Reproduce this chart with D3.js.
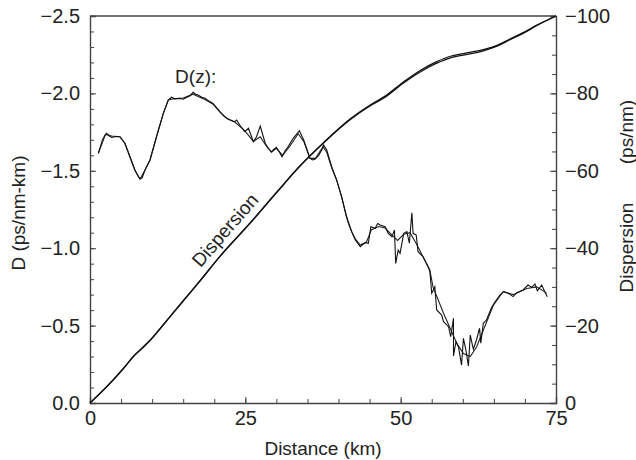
<!DOCTYPE html>
<html>
<head>
<meta charset="utf-8">
<script src="https://cdn.jsdelivr.net/npm/d3@7"></script>
<style>
  body { margin: 0; background: #fff; }
  svg { display: block; }
  text { font-family: "Liberation Sans", Arial, Helvetica, sans-serif; fill: #222; }
</style>
</head>
<body>
<svg id="chart" width="636" height="460"></svg>
<script>
// ---- data ----
const xTickLabels = [0, 25, 50, 75];
const leftTickValues = [-2.5, -2.0, -1.5, -1.0, -0.5, 0.0];
const rightTickValues = [-100, -80, -60, -40, -20, 0];

// measured D(z) (noisy trace)
const dNoisyKm = [1.34,2.0,2.41,2.68,3.1,3.49,4.2,4.83,5.63,6.44,7.24,7.78,8.05,8.4,8.85,9.66,10.7,11.8,12.6,13.1,13.6,14.5,15.0,15.6,16.1,16.6,17.0,17.4,18.0,18.5,19.2,19.8,20.9,21.5,22.0,22.7,23.3,23.6,24.1,24.9,25.5,26.3,26.8,27.4,28.2,28.7,29.2,29.6,30.0,30.5,30.9,31.4,31.9,32.7,33.7,34.4,35.4,35.8,36.2,36.8,37.3,37.6,38.1,38.9,39.7,40.5,41.0,41.3,41.6,42.1,42.7,43.5,44.3,44.8,45.2,45.9,46.3,46.7,47.5,48.0,48.6,49.0,49.2,49.6,49.9,50.5,51.0,51.4,51.8,52.0,52.5,52.8,53.6,54.4,54.7,55.0,55.5,55.8,56.6,56.9,57.7,58.05,58.5,58.5,58.9,59.3,59.8,60.1,60.5,60.9,61.2,61.7,62.2,62.7,62.9,63.3,63.8,64.65,65.2,66.0,66.6,67.3,68.1,68.7,69.7,70.5,71.1,71.6,72.0,72.7,73.2,73.6];
const dNoisy = [-1.613,-1.70,-1.731,-1.742,-1.725,-1.716,-1.722,-1.720,-1.678,-1.591,-1.505,-1.462,-1.447,-1.455,-1.505,-1.57,-1.72,-1.871,-1.957,-1.975,-1.965,-1.968,-1.962,-1.975,-1.985,-2.007,-1.995,-1.99,-1.975,-1.968,-1.950,-1.936,-1.882,-1.855,-1.839,-1.825,-1.817,-1.828,-1.796,-1.753,-1.775,-1.688,-1.72,-1.789,-1.678,-1.645,-1.623,-1.64,-1.652,-1.62,-1.591,-1.63,-1.656,-1.71,-1.759,-1.699,-1.581,-1.57,-1.574,-1.60,-1.634,-1.667,-1.634,-1.526,-1.44,-1.333,-1.25,-1.203,-1.161,-1.107,-1.053,-1.01,-1.036,-1.032,-1.139,-1.129,-1.16,-1.15,-1.139,-1.096,-1.074,-1.118,-0.902,-0.988,-0.967,-1.096,-1.107,-1.032,-1.229,-1.096,-1.085,-0.977,-0.945,-0.88,-0.85,-0.709,-0.751,-0.601,-0.568,-0.525,-0.493,-0.428,-0.547,-0.304,-0.396,-0.364,-0.245,-0.418,-0.342,-0.239,-0.439,-0.347,-0.407,-0.483,-0.386,-0.515,-0.536,-0.618,-0.654,-0.698,-0.719,-0.709,-0.687,-0.713,-0.73,-0.762,-0.747,-0.769,-0.725,-0.762,-0.719,-0.687];

// smoothed D(z)
const dSmoothKm = [1.34,2.5,3.5,4.8,5.6,6.4,7.2,8.05,8.85,9.66,10.7,11.8,12.6,13.5,15.0,16.6,17.4,18.5,19.8,20.9,22.0,23.3,24.9,26.3,27.4,28.2,29.2,30.0,31.0,32.2,33.5,34.4,35.4,36.3,37.5,38.1,38.9,39.7,40.5,41.3,42.1,42.7,43.5,44.5,45.3,46.5,47.5,48.5,49.5,50.5,51.5,52.5,53.6,54.7,55.2,56.9,58.0,59.1,60.1,61.2,62.2,63.3,64.9,66.5,68.1,70.3,71.9,73.5];
const dSmooth = [-1.613,-1.735,-1.725,-1.72,-1.678,-1.59,-1.505,-1.447,-1.505,-1.57,-1.72,-1.871,-1.957,-1.965,-1.97,-1.995,-1.98,-1.96,-1.93,-1.88,-1.84,-1.815,-1.76,-1.69,-1.72,-1.67,-1.62,-1.645,-1.60,-1.66,-1.74,-1.69,-1.58,-1.58,-1.655,-1.62,-1.52,-1.44,-1.33,-1.20,-1.11,-1.06,-1.02,-1.04,-1.12,-1.14,-1.13,-1.09,-1.05,-1.09,-1.10,-1.03,-0.945,-0.859,-0.75,-0.58,-0.48,-0.38,-0.32,-0.30,-0.36,-0.47,-0.63,-0.72,-0.70,-0.74,-0.75,-0.71];

// accumulated dispersion (ps/nm), two nearly coincident traces
const dispKm = [0,3.2,5.5,7.0,8.3,9.7,11.2,12.9,15.3,17.7,21.0,25.75,30.0,33.8,37.8,41.8,45.1,47.5,50.4,53.0,55.8,58.0,60.1,63.3,65.5,67.5,69.7,72.0,75.0];
const dispA  = [0,-5.1,-9.2,-12.0,-14.0,-16.2,-19.0,-22.3,-26.9,-31.5,-38.0,-46.4,-54.3,-61.2,-67.5,-73.1,-76.8,-79.0,-82.6,-85.4,-87.8,-89.2,-89.9,-91.0,-92.2,-93.8,-95.5,-97.6,-100];
const dispB  = [0,-5.0,-9.1,-12.1,-14.1,-16.3,-19.1,-22.4,-27.0,-31.6,-38.1,-46.5,-54.4,-61.3,-67.6,-73.3,-77.0,-79.3,-82.9,-85.8,-88.2,-89.6,-90.3,-91.3,-92.4,-94.0,-95.7,-97.7,-100];

// ---- layout ----
const svg = d3.select("#chart");
const M = {left: 90, right: 80, top: 16, bottom: 57};
const W = 636 - M.left - M.right, H = 460 - M.top - M.bottom;
const g = svg.append("g").attr("transform", `translate(${M.left},${M.top})`);

const x = d3.scaleLinear().domain([0, 75]).range([0, W]);
const yL = d3.scaleLinear().domain([0, -2.5]).range([H, 0]);
const yR = d3.scaleLinear().domain([0, -100]).range([H, 0]);

const minus = v => String(v).replace("-", "\u2212");
const axisColor = "#444";

// minor ticks
g.append("g").attr("transform", `translate(0,${H})`)
  .call(d3.axisBottom(x).tickValues(d3.range(0, 76, 5)).tickSize(-4).tickFormat(""))
  .call(s => s.select(".domain").remove());
g.append("g")
  .call(d3.axisLeft(yL).tickValues(d3.range(0, 26).map(i => -i / 10)).tickSize(-4).tickFormat(""))
  .call(s => s.select(".domain").remove());
g.append("g").attr("transform", `translate(${W},0)`)
  .call(d3.axisRight(yR).tickValues(d3.range(0, 21).map(i => -i * 5)).tickSize(-4).tickFormat(""))
  .call(s => s.select(".domain").remove());

// major axes
const fs = "19px", tfs = "20px";
const xa = g.append("g").attr("transform", `translate(0,${H})`)
  .call(d3.axisBottom(x).tickValues(xTickLabels).tickSize(-6).tickPadding(8).tickFormat(d => d));
const la = g.append("g")
  .call(d3.axisLeft(yL).tickValues(leftTickValues).tickSize(-6).tickPadding(10).tickFormat(d => minus(d3.format(".1f")(d))));
const ra = g.append("g").attr("transform", `translate(${W},0)`)
  .call(d3.axisRight(yR).tickValues(rightTickValues).tickSize(-6).tickPadding(9).tickFormat(d => minus(d)));
[xa, la, ra].forEach(a => {
  a.selectAll("text").style("font-size", tfs).attr("fill", "#222");
  a.select(".domain").attr("stroke", axisColor).attr("stroke-width", 1.4);
});
g.selectAll("line").attr("stroke", axisColor);
// top frame
g.append("line").attr("x1", 0).attr("x2", W).attr("y1", 0).attr("y2", 0)
  .attr("stroke", axisColor).attr("stroke-width", 1.4);

// ---- lines ----
const lineL = d3.line().x(d => x(d[0])).y(d => yL(d[1]));
const lineR = d3.line().curve(d3.curveMonotoneX).x(d => x(d[0])).y(d => yR(d[1]));
g.append("path").datum(d3.zip(dSmoothKm, dSmooth)).attr("d", lineL)
  .attr("fill", "none").attr("stroke", "#222").attr("stroke-width", 1.1);
g.append("path").datum(d3.zip(dNoisyKm, dNoisy)).attr("d", lineL)
  .attr("fill", "none").attr("stroke", "#111").attr("stroke-width", 1.1);
g.append("path").datum(d3.zip(dispKm, dispB)).attr("d", lineR)
  .attr("fill", "none").attr("stroke", "#111").attr("stroke-width", 1.3);
g.append("path").datum(d3.zip(dispKm, dispA)).attr("d", lineR)
  .attr("fill", "none").attr("stroke", "#111").attr("stroke-width", 1.3);

// ---- annotations ----
g.append("text").attr("x", x(13.7)).attr("y", yL(-2.07)).style("font-size", fs).text("D(z):");
const ang = Math.atan2(yR(-61.2) - yR(-31.5), x(33.8) - x(17.7)) * 180 / Math.PI;
g.append("text")
  .attr("transform", `translate(${x(21.7)},${yR(-44.7)}) rotate(${ang})`)
  .attr("text-anchor", "middle").attr("dy", "0.35em").style("font-size", fs).text("Dispersion");

// ---- axis titles ----
svg.append("text").attr("x", M.left + W / 2).attr("y", 455).attr("text-anchor", "middle")
  .style("font-size", fs).text("Distance (km)");
svg.append("text").attr("transform", `translate(25,213) rotate(-90)`).attr("text-anchor", "middle")
  .style("font-size", fs).text("D (ps/nm-km)");
svg.append("text").attr("transform", `translate(633,247.5) rotate(-90)`).attr("text-anchor", "middle")
  .style("font-size", fs).text("Dispersion");
svg.append("text").attr("transform", `translate(633,132) rotate(-90)`).attr("text-anchor", "middle")
  .style("font-size", fs).text("(ps/nm)");
</script>
</body>
</html>
